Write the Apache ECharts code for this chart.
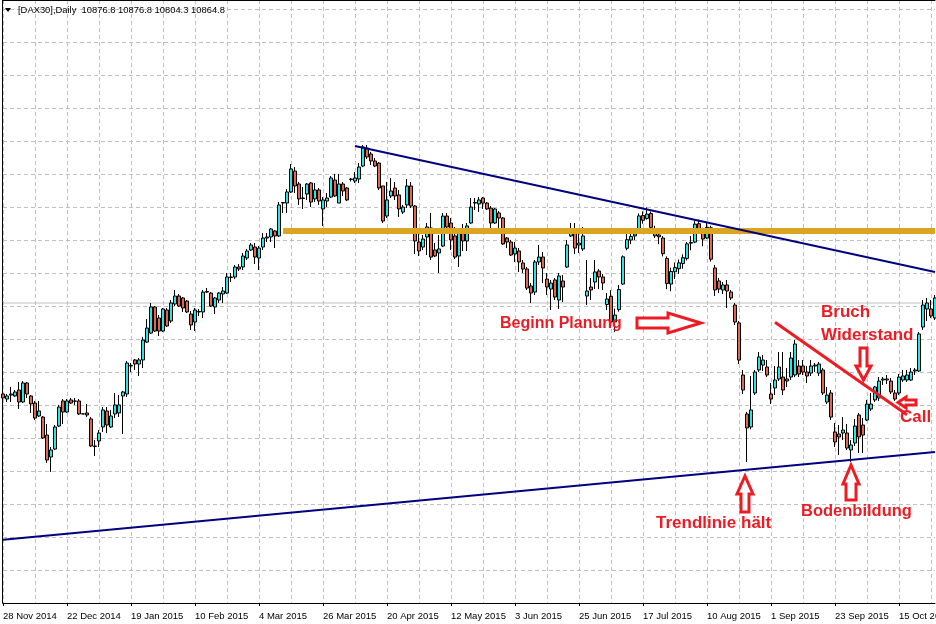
<!DOCTYPE html>
<html><head><meta charset="utf-8">
<script src="https://cdn.jsdelivr.net/npm/echarts@6/dist/echarts.min.js"></script>
<style>html,body{margin:0;padding:0;background:#fff}#c{width:936px;height:624px}</style>
</head><body><div id="c"></div>
<script>
const tickLabels = ['28 Nov 2014','22 Dec 2014','19 Jan 2015','10 Feb 2015','4 Mar 2015','26 Mar 2015','20 Apr 2015','12 May 2015','3 Jun 2015','25 Jun 2015','17 Jul 2015','10 Aug 2015','1 Sep 2015','23 Sep 2015','15 Oct 2015'];
const headerText = '[DAX30],Daily  10876.8 10876.8 10804.3 10864.8';
const lastBid = 10864.8;

const opens = [9975,9926,9975,9956,10014,9897,10083,9956,9887,9760,9750,9574,9359,9437,9662,9907,9799,9917,9907,9907,9781,9790,9731,9467,9516,9653,9809,9653,9780,9790,
9956,9975,10249,10308,10268,10308,10483,10571,10826,10718,10591,10796,10689,10855,10933,10914,10884,10757,10679,10777,10777,10972,10962,10826,10894,10953,10962,11114,11119,11217,
11217,11305,11383,11412,11305,11412,11500,11510,11569,11520,11842,11842,11950,12155,12028,11891,11930,12038,11882,11970,11784,11862,11901,12067,11842,12028,11989,12077,12057,12077,
12204,12380,12321,12253,12233,12009,11715,11911,11989,11921,11754,11823,12009,11813,11461,11412,11510,11598,11383,11354,11422,11715,11647,11520,11324,11569,11471,11647,11842,11833,
11891,11842,11793,11647,11745,11696,11500,11461,11344,11373,11256,11197,11031,10972,11266,11314,11099,11001,11090,10894,11080,11217,11520,11578,11432,11393,10933,11021,11070,11177,
11119,10850,10930,10680,10800,11050,11400,11480,11520,11560,11720,11690,11740,11590,11530,11500,11300,11050,11170,11200,11250,11300,11450,11460,11640,11580,11500,11600,11207,11080,
10992,11041,10972,10845,10670,10161,9780,9653,9985,10210,10258,10239,9975,10034,10122,10141,10122,10141,10161,10249,10249,10190,10180,10249,10180,10210,9897,9985,9604,9584,
9594,9594,9428,9496,9770,9672,9721,9829,9917,9936,10112,10112,10102,9985,9985,10112,10112,10112,10200,10200,10630,10806,10806,10718];
const closes = [9936,9956,9965,9995,9897,10083,9975,9878,9740,9809,9545,9330,9428,9653,9848,9799,9907,9887,9904,9780,9780,9770,9467,9462,9594,9819,9672,9760,9868,9868,
9995,10278,10254,10268,10308,10503,10620,10826,10591,10591,10806,10640,10865,10933,10835,10816,10777,10650,10796,10782,10972,10977,10835,10914,10962,10982,11119,11119,11217,11197,
11324,11373,11432,11314,11402,11500,11510,11588,11520,11823,11847,11950,12175,12009,11882,11887,12028,11852,11970,11862,11872,11891,12087,11911,12028,11960,11872,12072,12087,12194,
12390,12292,12253,12204,11989,11666,11872,11960,11911,11784,11803,12009,11813,11471,11373,11490,11608,11314,11324,11393,11715,11608,11481,11314,11569,11471,11618,11803,11847,11872,
11842,11784,11647,11784,11696,11442,11461,11334,11402,11266,11197,11011,10962,11266,11314,11207,11021,11060,10923,11129,11021,11432,11569,11402,11451,11520,10982,10992,11168,11119,
11060,10904,10680,10747,10997,11316,11484,11516,11540,11716,11673,11734,11604,11521,11512,11347,11056,11173,11211,11257,11308,11443,11456,11636,11585,11490,11605,11293,10992,11001,
11041,10982,10914,10679,10307,10014,9643,9819,10190,10337,10307,10161,9926,10112,10239,10014,10102,10327,10464,10171,10190,10151,10249,10258,10268,9985,9965,9750,9506,9555,
9623,9447,9477,9662,9555,9574,9877,9877,10044,10102,10122,10122,9995,9926,10141,10151,10161,10190,10210,10562,10845,10865,10738,10914];
const lows = [9917,9897,9897,9946,9829,9887,9936,9790,9721,9750,9535,9301,9213,9428,9653,9682,9790,9877,9868,9770,9779,9750,9457,9369,9457,9604,9594,9643,9740,9750,
9584,9946,10190,10210,10151,10229,10474,10562,10581,10542,10581,10630,10669,10835,10826,10777,10767,10601,10591,10738,10718,10962,10826,10757,10865,10865,10953,11070,11099,11177,
11187,11285,11373,11246,11187,11383,11461,11461,11402,11510,11745,11745,11940,11940,11823,11784,11872,11803,11852,11823,11618,11803,11891,11901,11842,11911,11862,12053,12038,12038,
12194,12272,12214,12194,11970,11647,11696,11891,11872,11706,11735,11793,11793,11344,11324,11383,11334,11285,11314,11158,11412,11598,11383,11295,11217,11373,11373,11637,11774,11754,
11784,11774,11598,11637,11598,11432,11402,11324,11266,11168,11158,10992,10865,10943,11236,11060,10943,10796,10894,10806,10874,11207,11510,11344,11354,11373,10845,10894,11001,11001,
10992,10796,10650,10580,10780,11040,11380,11440,11480,11550,11640,11680,11580,11500,11440,11320,11000,10980,11100,11150,11200,11280,11380,11450,11540,11420,11490,11270,10933,10962,
10953,10816,10894,10650,10268,9975,9311,9630,9965,10190,10200,10141,9877,9965,10102,9965,10044,10112,10141,10141,10161,10083,10151,10190,10151,9965,9877,9721,9457,9379,
9525,9428,9311,9467,9398,9398,9711,9809,9897,9907,10063,10073,9975,9907,9965,10093,10093,10102,10161,10190,10601,10689,10718,10698];
const highs = [9995,9975,10044,10014,10093,10102,10093,9965,9907,9907,9760,9682,9457,9672,9868,9926,9926,9936,9936,9926,9782,9877,9750,9525,9623,9848,9848,9819,9985,9965,
10005,10298,10278,10317,10327,10532,10708,10865,10836,10747,10816,10816,10894,10992,10953,10924,10894,10787,10816,10806,10992,11011,10972,10924,10972,11021,11158,11158,11236,11246,
11354,11393,11451,11451,11422,11549,11549,11598,11578,11852,11852,11979,12224,12194,12048,11999,12038,12048,12038,11989,11901,11940,12106,12126,12126,12048,11999,12087,12145,12233,
12409,12409,12341,12282,12243,12009,12048,12087,12048,11970,11823,12077,12048,11823,11559,11530,11647,11745,11451,11530,11745,11745,11696,11608,11598,11637,11647,11891,11891,11901,
11901,11852,11813,11793,11764,11706,11510,11481,11461,11402,11285,11217,11060,11285,11432,11363,11158,11090,11109,11158,11138,11481,11647,11647,11549,11608,11285,11109,11285,11197,
11148,10962,10990,10810,11040,11330,11540,11540,11560,11740,11760,11800,11760,11620,11580,11520,11320,11210,11260,11290,11340,11460,11520,11670,11680,11600,11660,11620,11236,11109,
11070,11090,10992,10865,10689,10210,9800,10151,10210,10386,10356,10307,10083,10249,10386,10386,10229,10386,10503,10307,10307,10249,10307,10278,10288,10229,10044,10014,9692,9672,
9750,9682,9525,9731,9790,9740,9917,9985,10054,10141,10141,10161,10132,10014,10171,10210,10210,10229,10229,10581,10894,10914,10894,10943];

// trend lines as [barIndex, price]
const upperTrend = [[88, 12400], [233, 11168]];
const lowerTrend = [[0, 8551], [233, 9407]];
const resistance = [[70, 11569], [233, 11569]];
const breakLine = [[193, 10676], [226, 9773]];

const N = opens.length;
const cats = opens.map((_, i) => String(i));
const candles = opens.map((o, i) => [o, closes[i], lows[i], highs[i]]);

const chart = echarts.init(document.getElementById('c'), null, {renderer: 'canvas'});
const RED = '#ED1C24';
const labelFont = 'Liberation Sans';
function arrow(points) {
  return {type: 'polygon', shape: {points: points}, style: {fill: '#fff', stroke: RED, lineWidth: 3}, z: 100};
}
function txt(x, y, s, size) {
  return {type: 'text', x: x, y: y, style: {text: s, fill: RED, font: 'bold ' + (size || 17) + 'px "Liberation Sans"', textVerticalAlign: 'middle'}, z: 100};
}
chart.setOption({
  animation: false,
  backgroundColor: '#fff',
  grid: {left: 3, top: 0, width: (N - 1) * 4, height: 603, containLabel: false, outerBoundsMode: 'none'},
  xAxis: [{
    type: 'category', data: cats, boundaryGap: false, position: 'bottom', offset: 3,
    axisLine: {show: true, lineStyle: {color: '#000', width: 1}},
    axisTick: {show: true, interval: 15, length: 3, lineStyle: {color: '#000'}},
    axisLabel: {show: true, interval: 15, align: 'left', margin: 5, color: '#000', fontFamily: labelFont, fontSize: 9.5,
      hideOverlap: false, formatter: (v, idx) => tickLabels[Math.round(idx / 16)] || ''},
    splitLine: {show: true, interval: 7, lineStyle: {color: '#c0c0c0', type: [4, 3], width: 1}}
  }, {
    type: 'category', data: cats, boundaryGap: false, position: 'top',
    axisLine: {show: true, lineStyle: {color: '#000', width: 1}},
    axisTick: {show: false}, axisLabel: {show: false}, splitLine: {show: false}
  }],
  yAxis: [{
    type: 'value', min: 7932, max: 13826.9, position: 'left', offset: 1,
    axisLine: {show: true, lineStyle: {color: '#000', width: 1}},
    axisTick: {show: false}, axisLabel: {show: false}, splitLine: {show: false}
  }, {
    type: 'value', min: 0, max: 603, interval: 33, position: 'right',
    axisLine: {show: false}, axisTick: {show: false}, axisLabel: {show: false},
    splitLine: {show: true, lineStyle: {color: '#c0c0c0', type: [4, 3], width: 1}}
  }],
  series: [{
    type: 'line', data: [[0, lastBid], [N - 1, lastBid]], symbol: 'none', silent: true, z: 1,
    lineStyle: {color: '#c0c0c0', width: 1}
  }, {
    type: 'candlestick', data: candles, barWidth: 3, z: 2,
    itemStyle: {color: '#2FE3E3', color0: '#DD6A50', borderColor: '#000', borderColor0: '#000', borderWidth: 1}
  }, {
    type: 'line', data: resistance, symbol: 'none', silent: true, z: 3,
    lineStyle: {color: '#DAA520', width: 6}
  }, {
    type: 'line', data: upperTrend, symbol: 'none', silent: true, z: 4,
    lineStyle: {color: '#000080', width: 2}
  }, {
    type: 'line', data: lowerTrend, symbol: 'none', silent: true, z: 4,
    lineStyle: {color: '#000080', width: 2}
  }, {
    type: 'line', data: breakLine, symbol: 'none', silent: true, z: 5,
    lineStyle: {color: RED, width: 3}
  }],
  graphic: [
    {type: 'polygon', shape: {points: [[5, 8], [11, 8], [8, 12]]}, style: {fill: '#000'}, z: 100},
    {type: 'text', x: 18, y: 10, style: {text: headerText, fill: '#000', font: '9.4px "Liberation Sans"', textVerticalAlign: 'middle'}, z: 100},
    txt(500, 324, 'Beginn Planung', 16),
    arrow([[637, 318], [668, 318], [668, 313], [701, 323], [668, 333], [668, 328], [637, 328]]),
    txt(821, 312, 'Bruch'),
    txt(821, 335, 'Widerstand'),
    arrow([[860, 348], [867, 348], [867, 366], [871, 366], [863.5, 380], [856, 366], [860, 366]]),
    arrow([[898, 402.5], [906, 397], [906, 400], [916, 400], [916, 405], [906, 405], [906, 408]]),
    txt(900, 417, 'Call'),
    arrow([[745, 476], [753, 494], [749, 494], [749, 512], [741, 512], [741, 494], [737, 494]]),
    txt(656, 523, 'Trendlinie hält'),
    arrow([[851, 465], [859, 484], [856, 484], [856, 500], [846, 500], [846, 484], [843, 484]]),
    txt(801, 511, 'Bodenbildung', 16.5)
  ]
});
</script></body></html>
